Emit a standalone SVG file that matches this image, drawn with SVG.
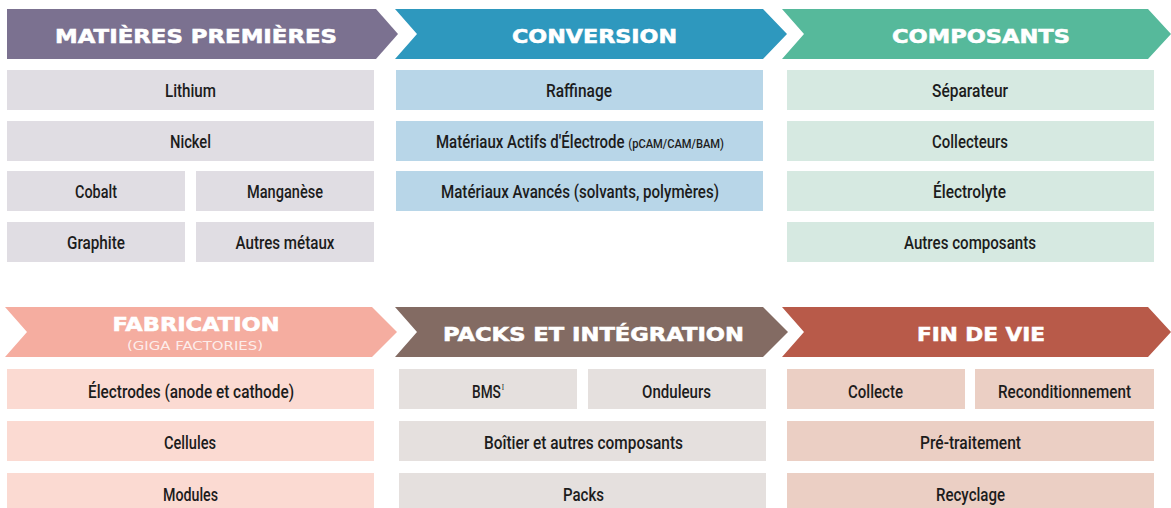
<svg xmlns="http://www.w3.org/2000/svg" width="1171" height="508" viewBox="0 0 1171 508">
  <style>
    .hd { font-family: "DejaVu Sans", "Liberation Sans", sans-serif; font-weight: 700; font-size: 20px; fill: #ffffff; stroke: #ffffff; stroke-width: 0.6; text-anchor: middle; }
    .sub { font-family: "DejaVu Sans", "Liberation Sans", sans-serif; font-size: 12px; fill: #ffffff; fill-opacity: 0.8; text-anchor: middle; }
    .lb { font-family: "Roboto", "Liberation Sans", sans-serif; font-weight: 500; font-size: 17.5px; fill: #1c1c1c; text-anchor: middle; }
    .sm { font-size: 13px; }
    .sup { font-family: "Liberation Serif", serif; font-size: 9px; }
    .mp { fill: #e0dde3; }
    .cv { fill: #b8d6e8; }
    .cp { fill: #d6e9e1; }
    .fb { fill: #fbdad2; }
    .pk { fill: #e5e0de; }
    .fv { fill: #ebcfc4; }
  </style>

  <!-- Stage 1: raw materials -->
  <g id="matieres-premieres">
    <path d="M7,9 H376 L398,34 L376,59 H7 Z" fill="#7b7190"/>
    <text class="hd" x="196" y="43" textLength="282" lengthAdjust="spacingAndGlyphs">MATIÈRES PREMIÈRES</text>
    <rect class="mp" x="7" y="70" width="367" height="40"/>
    <text class="lb" x="190.5" y="96.5" textLength="51" lengthAdjust="spacingAndGlyphs">Lithium</text>
    <rect class="mp" x="7" y="121" width="367" height="40"/>
    <text class="lb" x="190.5" y="147.5" textLength="41" lengthAdjust="spacingAndGlyphs">Nickel</text>
    <rect class="mp" x="7" y="171" width="178" height="40"/>
    <text class="lb" x="96" y="197.5" textLength="42" lengthAdjust="spacingAndGlyphs">Cobalt</text>
    <rect class="mp" x="196" y="171" width="178" height="40"/>
    <text class="lb" x="285" y="197.5" textLength="76" lengthAdjust="spacingAndGlyphs">Manganèse</text>
    <rect class="mp" x="7" y="222" width="178" height="40"/>
    <text class="lb" x="96" y="248.5" textLength="58" lengthAdjust="spacingAndGlyphs">Graphite</text>
    <rect class="mp" x="196" y="222" width="178" height="40"/>
    <text class="lb" x="285" y="248.5" textLength="99" lengthAdjust="spacingAndGlyphs">Autres métaux</text>
  </g>

  <!-- Stage 2: conversion -->
  <g id="conversion">
    <path d="M395,9 H763 L787,34 L763,59 H395 L417,34 Z" fill="#2e98be"/>
    <text class="hd" x="594.5" y="43" textLength="165" lengthAdjust="spacingAndGlyphs">CONVERSION</text>
    <rect class="cv" x="396" y="70" width="367" height="40"/>
    <text class="lb" x="579" y="96.5" textLength="66" lengthAdjust="spacingAndGlyphs">Raffinage</text>
    <rect class="cv" x="396" y="121" width="367" height="40"/>
    <text class="lb" x="580" y="147.5" textLength="288" lengthAdjust="spacingAndGlyphs">Matériaux Actifs d'Électrode <tspan class="sm">(pCAM/CAM/BAM)</tspan></text>
    <rect class="cv" x="396" y="171" width="367" height="40"/>
    <text class="lb" x="580" y="197.5" textLength="278" lengthAdjust="spacingAndGlyphs">Matériaux Avancés (solvants, polymères)</text>
  </g>

  <!-- Stage 3: components -->
  <g id="composants">
    <path d="M782,9 H1148 L1171,34 L1148,59 H782 L804,34 Z" fill="#56b99b"/>
    <text class="hd" x="981" y="43" textLength="178" lengthAdjust="spacingAndGlyphs">COMPOSANTS</text>
    <rect class="cp" x="787" y="70" width="367" height="40"/>
    <text class="lb" x="970" y="96.5" textLength="76" lengthAdjust="spacingAndGlyphs">Séparateur</text>
    <rect class="cp" x="787" y="121" width="367" height="40"/>
    <text class="lb" x="970" y="147.5" textLength="76" lengthAdjust="spacingAndGlyphs">Collecteurs</text>
    <rect class="cp" x="787" y="171" width="367" height="40"/>
    <text class="lb" x="969.5" y="197.5" textLength="73" lengthAdjust="spacingAndGlyphs">Électrolyte</text>
    <rect class="cp" x="787" y="222" width="367" height="40"/>
    <text class="lb" x="970" y="248.5" textLength="132" lengthAdjust="spacingAndGlyphs">Autres composants</text>
  </g>

  <!-- Stage 4: manufacturing -->
  <g id="fabrication">
    <path d="M5,307 H372 L397,332 L372,357 H5 L27,332 Z" fill="#f5ada0"/>
    <text class="hd" x="196" y="331" textLength="167" lengthAdjust="spacingAndGlyphs">FABRICATION</text>
    <text class="sub" x="195" y="350" textLength="136" lengthAdjust="spacingAndGlyphs">(GIGA FACTORIES)</text>
    <rect class="fb" x="7" y="369" width="367" height="40"/>
    <text class="lb" x="191" y="397.5" textLength="206" lengthAdjust="spacingAndGlyphs">Électrodes (anode et cathode)</text>
    <rect class="fb" x="7" y="421" width="367" height="40"/>
    <text class="lb" x="190" y="448.5" textLength="52" lengthAdjust="spacingAndGlyphs">Cellules</text>
    <rect class="fb" x="7" y="473" width="367" height="40"/>
    <text class="lb" x="190.5" y="500.5" textLength="55" lengthAdjust="spacingAndGlyphs">Modules</text>
  </g>

  <!-- Stage 5: packs and integration -->
  <g id="packs-integration">
    <path d="M395,307 H763 L788,332 L763,357 H395 L417,332 Z" fill="#836b63"/>
    <text class="hd" x="593.5" y="341" textLength="301" lengthAdjust="spacingAndGlyphs">PACKS ET INTÉGRATION</text>
    <rect class="pk" x="399" y="369" width="178" height="40"/>
    <text class="lb" x="488" y="397.5" textLength="32" lengthAdjust="spacingAndGlyphs">BMS<tspan class="sup" dx="1" dy="-8">I</tspan></text>
    <rect class="pk" x="588" y="369" width="178" height="40"/>
    <text class="lb" x="676.5" y="397.5" textLength="69" lengthAdjust="spacingAndGlyphs">Onduleurs</text>
    <rect class="pk" x="399" y="421" width="367" height="40"/>
    <text class="lb" x="583.5" y="448.5" textLength="199" lengthAdjust="spacingAndGlyphs">Boîtier et autres composants</text>
    <rect class="pk" x="399" y="473" width="367" height="40"/>
    <text class="lb" x="583.5" y="500.5" textLength="41" lengthAdjust="spacingAndGlyphs">Packs</text>
  </g>

  <!-- Stage 6: end of life -->
  <g id="fin-de-vie">
    <path d="M782,307 H1148 L1171,332 L1148,357 H782 L804,332 Z" fill="#b85a49"/>
    <text class="hd" x="981" y="341" textLength="128" lengthAdjust="spacingAndGlyphs">FIN DE VIE</text>
    <rect class="fv" x="787" y="369" width="178" height="40"/>
    <text class="lb" x="875.5" y="397.5" textLength="55" lengthAdjust="spacingAndGlyphs">Collecte</text>
    <rect class="fv" x="975" y="369" width="179" height="40"/>
    <text class="lb" x="1064.5" y="397.5" textLength="133" lengthAdjust="spacingAndGlyphs">Reconditionnement</text>
    <rect class="fv" x="787" y="421" width="367" height="40"/>
    <text class="lb" x="970.5" y="448.5" textLength="101" lengthAdjust="spacingAndGlyphs">Pré-traitement</text>
    <rect class="fv" x="787" y="473" width="367" height="40"/>
    <text class="lb" x="970.5" y="500.5" textLength="69" lengthAdjust="spacingAndGlyphs">Recyclage</text>
  </g>

  <!-- no connectors: the chevrons carry the flow -->
  <g id="connectors"/>
</svg>
